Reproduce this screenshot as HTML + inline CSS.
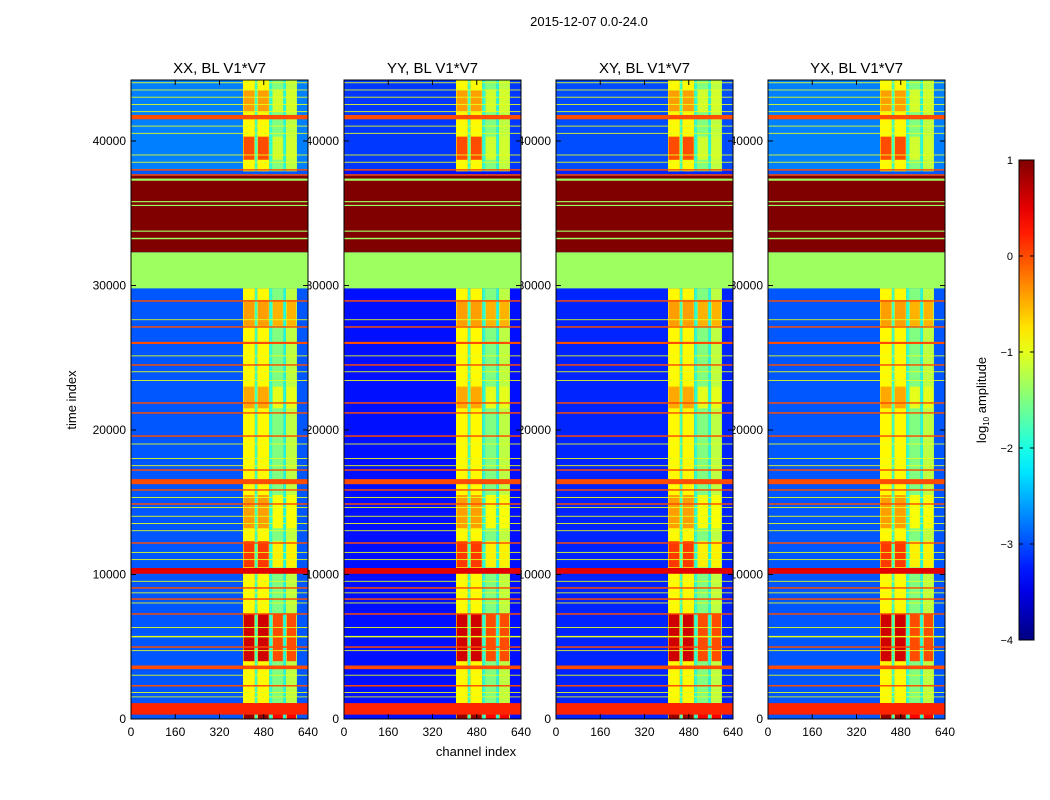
<!DOCTYPE html>
<html><head><meta charset="utf-8">
<style>
html,body{margin:0;padding:0;background:#fff;}
svg{display:block;font-family:"Liberation Sans",sans-serif;}
</style></head>
<body>
<svg id="fig" width="1050" height="800" viewBox="0 0 1050 800">
<rect width="1050" height="800" fill="#fff"/>
<text x="589" y="26" font-size="13" text-anchor="middle">2015-12-07 0.0-24.0</text>
<text x="476" y="756" font-size="13" text-anchor="middle">channel index</text>
<text transform="translate(76,400) rotate(-90)" font-size="13" text-anchor="middle">time index</text>
<g id="labels"></g>
<g id="panels"></g>
<g id="cbar"></g>
</svg>
<script>
// ---- data ----
const panelTitles = ["XX, BL V1*V7","YY, BL V1*V7","XY, BL V1*V7","YX, BL V1*V7"];
const panelBg = [-2.95, -3.3, -3.2, -2.95];
const xTicks = [0,160,320,480,640];
const yTicks = [0,10000,20000,30000,40000];
const cbTicks = [1,0,-1,-2,-3,-4];
// channel bands [c0,c1,value]
const colBands = [[405,448,-0.85],[448,457,-1.8],[457,500,-0.85],[500,510,-1.9],[510,552,-1.5],[552,560,-2.0],[560,600,-1.2]];
// time regions where channel bands appear
const colRegions = [[0,29800],[37900,44220]];
// hot regions [t0,t1,valueAB,valueCD]
const hotRegions = [[0,1100,0.9,0.4],[4000,7300,0.6,0.0],[10500,12300,0.1,-0.8],[13200,15500,-0.4,-0.9],[21500,23000,-0.45,-1.0],[27200,29000,-0.4,-0.5],[38700,40300,0.0,-1.1],[42000,43500,-0.4,-1.1]];
// full-width rows [t0,t1,value]
const rowBands = [
 [300,1100,0.2],[2250,2350,0],[3450,3700,0],[4930,5030,0],[5650,5750,-1.0],[7220,7320,0],
 [8250,8350,0],[9020,9120,0],[10050,10450,0.5],[12130,12230,0],[14830,14930,0],[15800,15900,0],
 [16250,16600,0],[17180,17280,0],[19530,19630,0],[21130,21230,0],[21820,21920,0],
 [24450,24550,0],[25950,26100,0],[27080,27180,0],[28880,28980,0],
 [29800,32300,-1.35],[32300,37600,1.0],[37250,37400,-1.35],[35500,35580,-1.35],[35760,35840,-1.35],[33720,33800,-1.35],[33200,33300,-1.35],
 [37600,37700,0],[37950,38050,0],[41500,41800,0],
 [1500,1560,-1.0],[1800,1860,-1.0],[3000,3060,-1.0],[4700,4760,-1.0],[6300,6360,-1.0],[8000,8060,-1.0],[8700,8760,-1.0],
 [9500,9560,-1.0],[11000,11060,-1.0],[11500,11560,-1.0],[13000,13060,-1.0],[13500,13560,-1.0],[14000,14060,-1.0],
 [14600,14660,-1.0],[15300,15360,-1.0],[17500,17560,-1.0],[18000,18060,-1.0],[19000,19060,-1.0],[23400,23460,-1.0],
 [24000,24060,-1.0],[25100,25160,-1.0],[27600,27660,-1.0],[38500,38560,-1.0],[39000,39060,-1.0],[40500,40560,-1.0],
 [41000,41060,-1.0],[42000,42060,-1.0],[42500,42560,-1.0],[43000,43060,-1.0],[43500,43560,-1.0],[44000,44060,-1.0]
];
// ---- geometry ----
const panelX = [131,344,556,768], PW = 177, PT = 80, PB = 719, TMAX = 44220, CMAX = 640;
const VMIN = -4, VMAX = 1;
function xs(p,c){return panelX[p] + c/CMAX*PW;}
function ys(t){return PB - t/TMAX*(PB-PT);}
function cl(v){return Math.max(0,Math.min(1,v));}
function jet(v){const x=cl((v-VMIN)/(VMAX-VMIN));
 const r=cl(1.5-Math.abs(4*x-3)),g=cl(1.5-Math.abs(4*x-2)),b=cl(1.5-Math.abs(4*x-1));
 return `rgb(${Math.round(r*255)},${Math.round(g*255)},${Math.round(b*255)})`;}
const NS="http://www.w3.org/2000/svg";
function mk(tag,attrs,parent){const e=document.createElementNS(NS,tag);for(const k in attrs)e.setAttribute(k,attrs[k]);parent.appendChild(e);return e;}
function cell(g,p,c0,c1,t0,t1,v){
 const y0=ys(Math.min(t1,TMAX)),y1=ys(t0);
 const r=mk('rect',{x:xs(p,c0),y:y0,width:xs(p,c1)-xs(p,c0),height:Math.max(0.8,y1-y0),fill:jet(v)},g);
 
 
}
const labels=document.getElementById('labels'), panels=document.getElementById('panels');
for(let p=0;p<4;p++){
 yTicks.forEach(t=>{const tx=mk('text',{x:panelX[p]-5,y:ys(t)+4,'font-size':12,'text-anchor':'end'},labels);tx.textContent=t;
  
  });
 xTicks.forEach(c=>{const tx=mk('text',{x:xs(p,c),y:736,'font-size':12,'text-anchor':'middle'},labels);tx.textContent=c;
  
  });
 const tt=mk('text',{x:panelX[p]+PW/2,y:73,'font-size':15,'text-anchor':'middle'},labels);tt.textContent=panelTitles[p];
 
 
}
for(let p=0;p<4;p++){
 const g=mk('g',{},panels);
 
 
 cell(g,p,0,CMAX,0,TMAX,panelBg[p]);
 cell(g,p,0,CMAX,38000,TMAX,panelBg[p]+0.2);
 colRegions.forEach(([t0,t1])=>colBands.forEach(([c0,c1,v])=>cell(g,p,c0,c1,t0,t1,v)));
 hotRegions.forEach(([t0,t1,a,cd])=>{cell(g,p,407,446,t0,t1,a);cell(g,p,459,498,t0,t1,a);cell(g,p,513,549,t0,t1,cd);cell(g,p,563,597,t0,t1,cd);});
 rowBands.forEach(([t0,t1,v])=>cell(g,p,0,CMAX,t0,t1,v));
 mk('rect',{x:panelX[p],y:PT,width:PW,height:PB-PT,fill:'none',stroke:'#000','stroke-width':1},g);
 xTicks.forEach(c=>{mk('line',{x1:xs(p,c),x2:xs(p,c),y1:PB,y2:PB-5,stroke:'#000'},g);mk('line',{x1:xs(p,c),x2:xs(p,c),y1:PT,y2:PT+5,stroke:'#000'},g);});
 yTicks.forEach(t=>{mk('line',{x1:panelX[p],x2:panelX[p]+5,y1:ys(t),y2:ys(t),stroke:'#000'},g);mk('line',{x1:panelX[p]+PW,x2:panelX[p]+PW-5,y1:ys(t),y2:ys(t),stroke:'#000'},g);});
}
// colorbar
const cb=document.getElementById('cbar');
const defs=mk('defs',{},cb);const lg=mk('linearGradient',{id:'jetg',x1:0,y1:1,x2:0,y2:0},defs);
for(let i=0;i<=20;i++){mk('stop',{offset:i/20,'stop-color':jet(VMIN+(VMAX-VMIN)*i/20)},lg);}
const CT=160,CB=640;
const bar=mk('rect',{x:1019,y:CT,width:15,height:CB-CT,fill:'url(#jetg)',stroke:'#000','stroke-width':1},cb);


cbTicks.forEach(v=>{const y=CB-(v-VMIN)/(VMAX-VMIN)*(CB-CT);
 mk('line',{x1:1019,x2:1023,y1:y,y2:y,stroke:'#000'},cb);mk('line',{x1:1034,x2:1030,y1:y,y2:y,stroke:'#000'},cb);
 const tx=mk('text',{x:1013,y:y+4,'font-size':11,'text-anchor':'end'},cb);tx.textContent=(v<0?'\u2212'+(-v):v);
 
 });
const cl2=mk('text',{transform:'translate(986,400) rotate(-90)','font-size':13,'text-anchor':'middle'},cb);
cl2.innerHTML='log<tspan font-size="8" dy="3">10</tspan><tspan dy="-3"> amplitude</tspan>';


</script>
</body></html>
